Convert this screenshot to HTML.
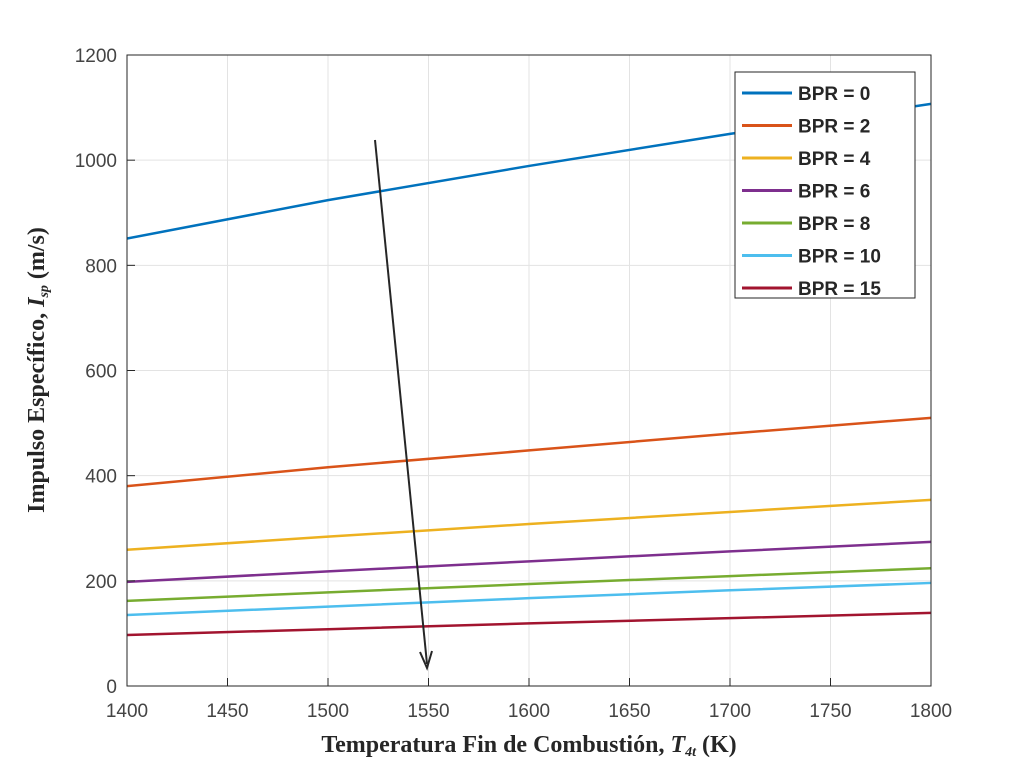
<!DOCTYPE html>
<html><head><meta charset="utf-8"><style>
body{margin:0;background:#fff;}
svg{display:block;}
</style></head><body>
<svg width="1024" height="772" viewBox="0 0 1024 772" xmlns="http://www.w3.org/2000/svg">
<g id="grid"></g>
<g id="series"></g>
<rect x="127" y="55" width="804" height="631" fill="none" stroke="#262626" stroke-width="1"/>
<g id="ticks"></g>
<line x1="375" y1="140" x2="427" y2="664" stroke="#262626" stroke-width="2"/>
<path d="M420,652 L427,668 L432,651" fill="none" stroke="#262626" stroke-width="2"/>
<g id="legend"></g>
<text x="529" y="752" text-anchor="middle" font-family="Liberation Serif, serif" font-size="24" font-weight="bold" fill="#262626">Temperatura Fin de Combustión, <tspan font-style="italic">T</tspan><tspan font-style="italic" font-size="14" dy="4">4t</tspan><tspan dy="-4"> (K)</tspan></text>
<text transform="translate(44,370) rotate(-90)" text-anchor="middle" font-family="Liberation Serif, serif" font-size="24" font-weight="bold" fill="#262626">Impulso Específico, <tspan font-style="italic">I</tspan><tspan font-style="italic" font-size="14" dy="4">sp</tspan><tspan dy="-4"> (m/s)</tspan></text>
</svg>
<script>
const xTicks=[1400,1450,1500,1550,1600,1650,1700,1750,1800];
const yTicks=[0,200,400,600,800,1000,1200];
const temps=[1400,1500,1600,1700,1800];
const seriesNames=["BPR = 0","BPR = 2","BPR = 4","BPR = 6","BPR = 8","BPR = 10","BPR = 15"];
const bpr0=[851,924,989,1050,1107];
const bpr2=[380,416,448,480,510];
const bpr4=[259,284,308,331,354];
const bpr6=[198,218,237,256,274];
const bpr8=[162,178,194,209,224];
const bpr10=[135,151,167,182,196];
const bpr15=[97,108,119,129,139];
const colors=["#0072BD","#D95319","#EDB120","#7E2F8E","#77AC30","#4DBEEE","#A2142F"];
const allSeries=[bpr0,bpr2,bpr4,bpr6,bpr8,bpr10,bpr15];
const NS="http://www.w3.org/2000/svg";
const X=v=>127+(v-1400)/400*804;
const Y=v=>686-v/1200*631;
const mk=(t,a,p)=>{const e=document.createElementNS(NS,t);for(const k in a)e.setAttribute(k,a[k]);p.appendChild(e);return e;};
const grid=document.getElementById('grid'),ticks=document.getElementById('ticks');
xTicks.forEach(t=>{
 const g=mk('line',{x1:X(t),x2:X(t),y1:55,y2:686,stroke:'#e3e3e3','stroke-width':1},grid);
 
 
 const tk=mk('line',{x1:X(t),x2:X(t),y1:686,y2:678,stroke:'#262626'},ticks);
 
 
 const l=mk('text',{x:X(t),y:717,'text-anchor':'middle','font-family':'Liberation Sans, sans-serif','font-size':19,fill:'#444'},ticks);
 l.textContent=t;
 
 
});
yTicks.forEach(t=>{
 const g=mk('line',{x1:127,x2:931,y1:Y(t),y2:Y(t),stroke:'#e3e3e3','stroke-width':1},grid);
 
 
 const tk=mk('line',{x1:127,x2:135,y1:Y(t),y2:Y(t),stroke:'#262626'},ticks);
 
 
 const l=mk('text',{x:117,y:Y(t)+7,'text-anchor':'end','font-family':'Liberation Sans, sans-serif','font-size':19,fill:'#444'},ticks);
 l.textContent=t;
 
 
});
const sg=document.getElementById('series');
allSeries.forEach((s,i)=>{
 const p=mk('polyline',{points:s.map((v,j)=>X(temps[j])+','+Y(v)).join(' '),fill:'none',stroke:colors[i],'stroke-width':2.5},sg);
 
 
});
const lg=document.getElementById('legend');
const box=mk('rect',{x:735,y:72,width:180,height:226,fill:'#fff',stroke:'#262626'},lg);


seriesNames.forEach((n,i)=>{
 const y=93+i*32.5;
 const ln=mk('line',{x1:742,x2:792,y1:y,y2:y,stroke:colors[i],'stroke-width':3},lg);
 
 
 const t=mk('text',{x:798,y:y+7,'font-family':'Liberation Sans, sans-serif','font-size':19,'font-weight':'bold',fill:'#262626'},lg);
 t.textContent=n;
 
 
});
</script>
</body></html>
